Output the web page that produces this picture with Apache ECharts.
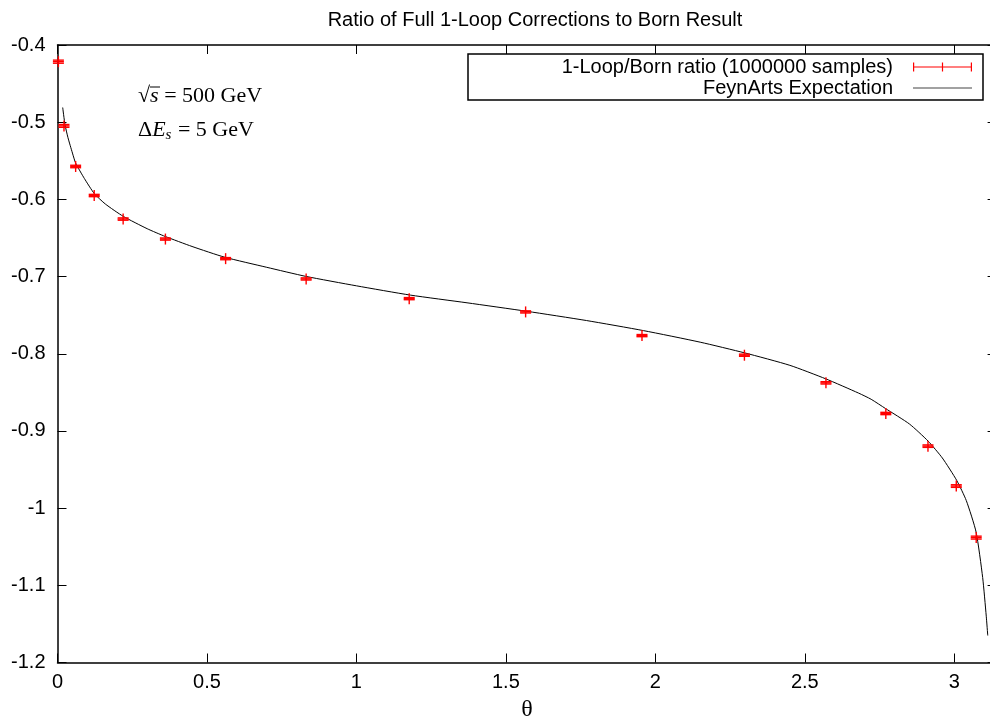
<!DOCTYPE html>
<html><head><meta charset="utf-8">
<script src="https://cdn.jsdelivr.net/npm/echarts@6/dist/echarts.min.js"></script>
<style>html,body{margin:0;padding:0;background:#fff}#c{width:990px;height:724px}</style>
</head><body><div id="c"></div>
<script>
// ---- data ----
const chartTitle = 'Ratio of Full 1-Loop Corrections to Born Result';
const seriesMC = '1-Loop/Born ratio (1000000 samples)';
const seriesFA = 'FeynArts Expectation';
const xTicks = [0, 0.5, 1, 1.5, 2, 2.5, 3];
const yTicks = [-1.2, -1.1, -1, -0.9, -0.8, -0.7, -0.6, -0.5, -0.4];
const thetaPts = [0.003, 0.0217, 0.0607, 0.1228, 0.2196, 0.361, 0.5624, 0.8318, 1.1766, 1.566, 1.9553, 2.298, 2.5707, 2.771, 2.912, 3.0067, 3.0734];
const ratioPts = [-0.4216, -0.5048, -0.5574, -0.595, -0.6255, -0.6514, -0.6768, -0.7031, -0.7286, -0.7458, -0.7765, -0.8019, -0.8377, -0.8774, -0.9197, -0.9714, -1.0382];
const errPts = [0.0020, 0.0018, 0.0016, 0.0015, 0.0015, 0.0014, 0.0014, 0.0014, 0.0014, 0.0014, 0.0014, 0.0014, 0.0015, 0.0015, 0.0016, 0.0017, 0.0019];
const curveTheta = [0.0174, 0.025, 0.035, 0.05, 0.0607, 0.09, 0.1228, 0.16, 0.22, 0.3, 0.36, 0.45, 0.56, 0.7, 0.83, 1.0, 1.18, 1.37, 1.57, 1.77, 1.96, 2.15, 2.3, 2.45, 2.57, 2.68, 2.722, 2.77, 2.85, 2.912, 2.96, 3.008, 3.04, 3.073, 3.095, 3.107, 3.112];
const curveRatio = [-0.481, -0.503, -0.52, -0.54, -0.553, -0.573, -0.5923, -0.606, -0.622, -0.638, -0.648, -0.661, -0.675, -0.688, -0.6997, -0.712, -0.724, -0.734, -0.745, -0.757, -0.770, -0.785, -0.799, -0.815, -0.8325, -0.851, -0.859, -0.871, -0.891, -0.913, -0.935, -0.964, -0.99, -1.031, -1.09, -1.14, -1.165];

// ---- chart ----
const SANS = 'Liberation Sans, Arial, Helvetica, sans-serif';
const SERIF = 'Liberation Serif, DejaVu Serif, serif';
const chart = echarts.init(document.getElementById('c'), null, {renderer: 'canvas'});

const axisLineStyle = {color: '#000', width: 1.5};
const tickStyle = {show: true, inside: true, length: 9, lineStyle: {color: '#000', width: 1}};
const xCommon = {
  type: 'value', min: xTicks[0], max: Math.PI, interval: xTicks[1] - xTicks[0],
  splitLine: {show: false}, axisLine: {show: true, onZero: false, lineStyle: axisLineStyle},
  axisTick: tickStyle
};
const yCommon = {
  type: 'value', min: yTicks[0], max: yTicks[yTicks.length - 1], interval: 0.1,
  splitLine: {show: false}, axisLine: {show: true, onZero: false, lineStyle: axisLineStyle},
  axisTick: tickStyle
};

const errIcon = 'path://M0,4.4H59V5.6H0ZM0,0.5H1.2V9.5H0ZM57.8,0.5H59V9.5H57.8ZM28.9,0.5H30.1V9.5H28.9Z';
const lineIcon = 'path://M0,4.4H59V5.6H0Z';
const legendText = {fontSize: 20, fontFamily: SANS, color: '#000', lineHeight: 20, padding: [0, 15, 0, 0]};

chart.setOption({
  animation: false,
  backgroundColor: '#fff',
  title: {
    text: chartTitle, left: 530, textAlign: 'center', top: 5,
    textStyle: {fontSize: 20, fontWeight: 'normal', fontFamily: SANS, color: '#000'}
  },
  grid: {left: 57.5, top: 45, right: -6.6, bottom: 61.5, containLabel: false, outerBoundsMode: 'none'},
  xAxis: [
    Object.assign({}, xCommon, {
      position: 'bottom',
      axisLabel: {color: '#000', fontSize: 20, fontFamily: SANS, margin: 10, showMaxLabel: false},
      name: 'θ', nameLocation: 'middle', nameGap: 26,
      nameTextStyle: {fontFamily: SERIF, fontSize: 24, color: '#000'}
    }),
    Object.assign({}, xCommon, {position: 'top', axisLabel: {show: false}})
  ],
  yAxis: [
    Object.assign({}, yCommon, {
      position: 'left',
      axisLabel: {color: '#000', fontSize: 20, fontFamily: SANS, margin: 12}
    }),
    Object.assign({}, yCommon, {position: 'right', axisLabel: {show: false}})
  ],
  legend: [
    {
      data: [{name: seriesMC, icon: errIcon, itemStyle: {color: '#ff0000'}}],
      right: 18, top: 57, itemWidth: 59, itemHeight: 10, align: 'right', orient: 'vertical',
      padding: 0, selectedMode: false, textStyle: legendText
    },
    {
      data: [{name: seriesFA, icon: lineIcon, itemStyle: {color: '#444'}}],
      right: 18, top: 78, itemWidth: 59, itemHeight: 10, align: 'right', orient: 'vertical',
      padding: 0, selectedMode: false, textStyle: legendText
    }
  ],
  graphic: [
    {type: 'rect', shape: {x: 468, y: 54, width: 515, height: 46}, style: {fill: 'none', stroke: '#000', lineWidth: 1.5}, z: 10},
    {
      type: 'text', left: 138, top: 85, z: 10,
      style: {
        text: '{n|√}{i|s}{n| = 500 GeV}',
        rich: {
          n: {fontFamily: SERIF, fontSize: 22, fill: '#000'},
          i: {fontFamily: SERIF, fontSize: 22, fontStyle: 'italic', fill: '#000'}
        }
      }
    },
    {
      type: 'text', left: 138, top: 119, z: 10,
      style: {
        text: '{n|Δ}{i|E}{sub|s}{n| = 5 GeV}',
        rich: {
          n: {fontFamily: SERIF, fontSize: 22, fill: '#000', lineHeight: 26, verticalAlign: 'middle'},
          i: {fontFamily: SERIF, fontSize: 22, fontStyle: 'italic', fill: '#000', lineHeight: 26, verticalAlign: 'middle'},
          sub: {fontFamily: SERIF, fontSize: 15, fontStyle: 'italic', fill: '#000', lineHeight: 15, verticalAlign: 'bottom', padding: [9, 1, 0, 0]}
        }
      }
    },
    {type: 'line', shape: {x1: 150, y1: 87, x2: 160, y2: 87}, style: {stroke: '#000', lineWidth: 1}, z: 10}
  ],
  series: [
    {
      type: 'line', name: seriesFA, xAxisIndex: 0, yAxisIndex: 0,
      data: curveTheta.map((t, i) => [t, curveRatio[i]]),
      showSymbol: false, smooth: 0.2, clip: true,
      lineStyle: {color: '#000', width: 1}, z: 2
    },
    {
      type: 'custom', name: seriesMC, xAxisIndex: 0, yAxisIndex: 0,
      data: thetaPts.map((t, i) => [t, ratioPts[i], errPts[i]]),
      encode: {x: 0, y: 1},
      z: 3,
      renderItem: function (params, api) {
        const x = api.value(0), y = api.value(1), e = api.value(2);
        const c = api.coord([x, y]);
        const hi = api.coord([x, y + e]);
        const lo = api.coord([x, y - e]);
        const s = 5.5, cap = 5.5;
        const st = {stroke: '#ff0000', lineWidth: 1.4};
        return {
          type: 'group', children: [
            {type: 'line', shape: {x1: c[0] - s, y1: c[1], x2: c[0] + s, y2: c[1]}, style: st},
            {type: 'line', shape: {x1: c[0], y1: c[1] - s, x2: c[0], y2: c[1] + s}, style: st},
            {type: 'line', shape: {x1: c[0] - cap, y1: hi[1], x2: c[0] + cap, y2: hi[1]}, style: st},
            {type: 'line', shape: {x1: c[0] - cap, y1: lo[1], x2: c[0] + cap, y2: lo[1]}, style: st},
            {type: 'line', shape: {x1: c[0], y1: hi[1], x2: c[0], y2: lo[1]}, style: st}
          ]
        };
      }
    }
  ]
});
</script>
</body></html>
